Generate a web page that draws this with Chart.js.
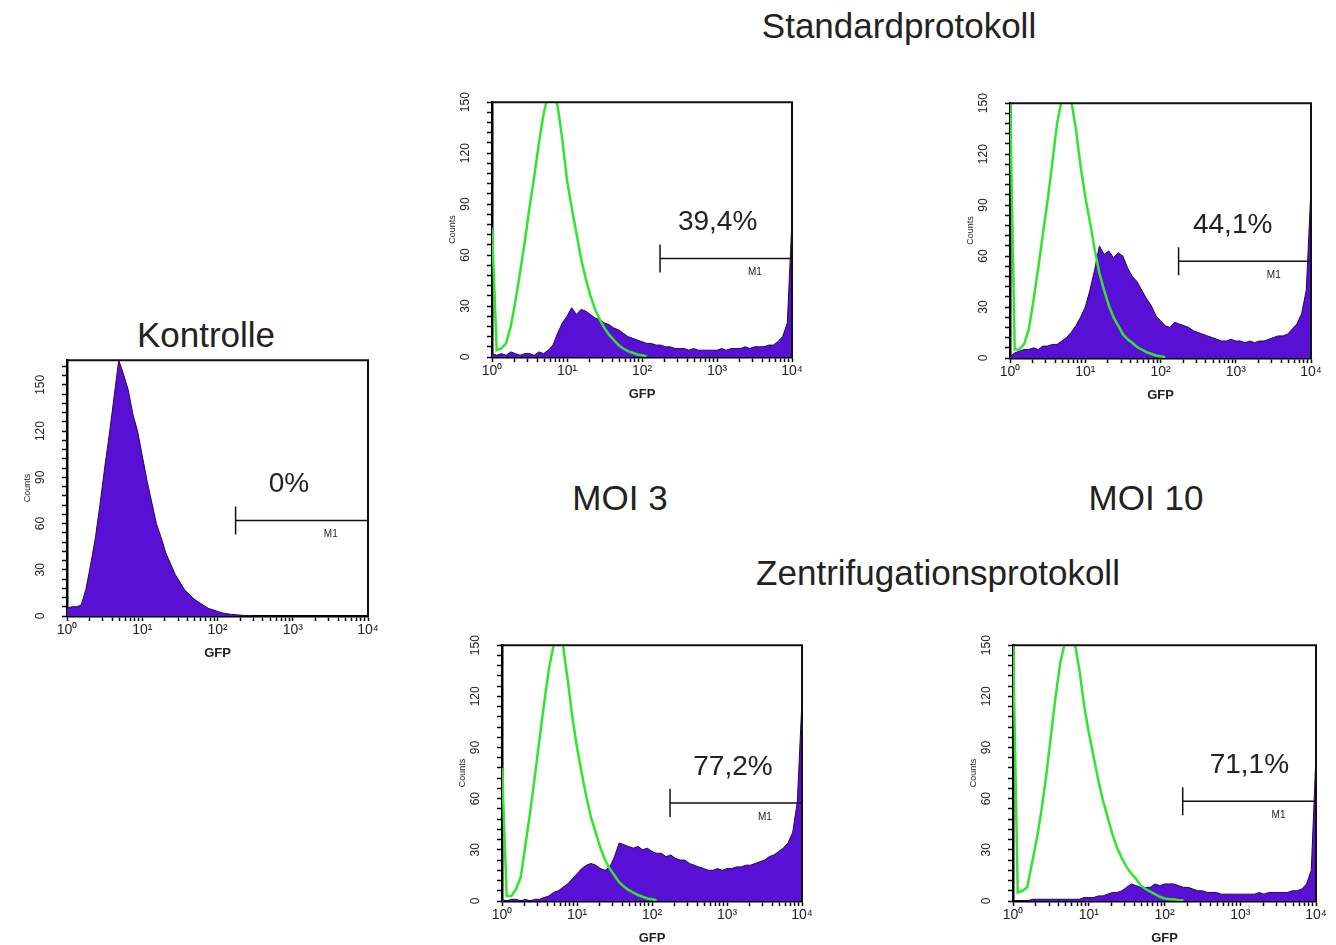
<!DOCTYPE html>
<html>
<head>
<meta charset="utf-8">
<script src="https://cdn.jsdelivr.net/npm/chart.js@4.4.1/dist/chart.umd.min.js"></script>
<style>
  body { margin: 0; background: #fff; width: 1336px; height: 945px; position: relative; overflow: hidden;
         font-family: "Liberation Sans", Arial, sans-serif; }
  .title { position: absolute; font-size: 35px; line-height: 1; color: #222; white-space: nowrap; transform: translateX(-50%); }
  canvas { position: absolute; }
</style>
</head>
<body>
<div class="title" style="left:899px;top:8px">Standardprotokoll</div>
<div class="title" style="left:206px;top:317px">Kontrolle</div>
<div class="title" style="left:620px;top:480px">MOI 3</div>
<div class="title" style="left:1146px;top:480px">MOI 10</div>
<div class="title" style="left:938px;top:555px">Zentrifugationsprotokoll</div>

<script>
// histogram channels: 16 bins per decade, from 10^0 to 10^4
const BINS_PER_DECADE = 16;

// Kontrolle (untransduced cells)
const kontrollePurple = [5, 6, 6, 7, 17, 33, 50, 72, 96, 118, 142, 166, 157, 147, 131, 120,
  104, 88, 74, 60, 51, 41, 34, 27, 22, 17, 14, 11, 9, 7, 5, 4, 3, 2, 1.5, 1, 0.8, 0.5, 0.3, 0.2, 0];

// Standardprotokoll, MOI 3
const std3Purple = [2, 1, 2, 1, 3, 2, 1, 2, 2, 1, 3, 2, 4, 7, 14, 20, 24, 29, 25, 28,
  27, 25, 23, 22, 20, 19, 17, 16, 14, 12, 11, 10, 9, 8, 8, 7, 7, 6, 6, 5,
  5, 5, 4, 5, 4, 4, 4, 4, 4, 5, 4, 5, 5, 5, 6, 5, 6, 6, 6, 7, 7, 9, 12, 20, 81];
const std3Green = [76, 4, 5, 8, 18, 33, 50, 68, 88, 106, 126, 143, 155, 156, 148, 128,
  104, 88, 73, 58, 46, 36, 28, 22, 17, 13, 10, 7, 5, 3.5, 2.5, 1.5, 1, 0.5];

// Standardprotokoll, MOI 10
const std10Purple = [1, 3, 4, 5, 5, 6, 5, 7, 7, 8, 8, 10, 12, 15, 19, 24, 30, 40, 52, 66,
  61, 63, 59, 62, 60, 53, 48, 45, 40, 35, 31, 25, 22, 19, 18, 21, 20, 19, 18, 16,
  15, 14, 13, 12, 11, 10, 10, 11, 10, 10, 9, 10, 9, 10, 10, 11, 12, 13, 13, 14, 17, 20, 26, 40, 100];
const std10Green = [155, 5, 5, 8, 17, 34, 53, 73, 93, 115, 138, 152, 158, 152, 135, 113,
  95, 80, 64, 50, 40, 31, 24, 19, 14, 11, 9, 6.5, 5, 3.5, 2.5, 1.5, 1, 0.5];

// Zentrifugationsprotokoll, MOI 3
const zen3Purple = [1, 0, 1, 1, 0, 1, 0, 1, 1, 2, 3, 5, 6, 8, 10, 13, 16, 19, 21, 22,
  21, 19, 18, 20, 26, 34, 33, 32, 31, 32, 30, 31, 29, 28, 28, 26, 27, 25, 24, 24,
  22, 21, 20, 19, 18, 18, 19, 18, 19, 19, 20, 20, 21, 21, 22, 23, 24, 26, 27, 29, 31, 34, 40, 58, 118];
const zen3Green = [78, 3, 3, 7, 14, 33, 52, 73, 95, 116, 136, 150, 156, 150, 130, 108,
  90, 75, 61, 49, 40, 31, 24, 19, 15, 11, 8.5, 6.5, 5, 3.5, 2.5, 1.5, 1, 0.5];

// Zentrifugationsprotokoll, MOI 10
const zen10Purple = [0, 0, 0, 0, 1, 1, 1, 1, 1, 1, 1, 1, 1, 1, 1, 2, 2, 2, 3, 3,
  4, 5, 5, 6, 8, 10, 9, 8, 8, 8, 10, 9, 10, 10, 10, 9, 8, 8, 7, 6,
  6, 5, 5, 5, 4, 4, 4, 4, 4, 4, 4, 4, 5, 4, 5, 5, 5, 5, 5, 6, 6, 7, 10, 18, 86];
const zen10Green = [155, 5, 6, 8, 22, 36, 53, 73, 97, 120, 140, 152, 157, 152, 136, 115,
  99, 85, 71, 59, 49, 39, 31, 25, 20, 16, 13, 9, 7, 5.5, 4, 2.5, 1.5, 1, 1, 0.5, 0.5];

// M1 gate and percentages (Kontrolle, Std MOI3, Std MOI10, Zen MOI3, Zen MOI10)
const gateStart = 174;
const gateLevels = [62, 58, 57, 57.5, 58.5];
const percentLabels = ['0%', '39,4%', '44,1%', '77,2%', '71,1%'];
const percentAt = [890, 1020, 910, 1200, 1320];
const yMaxima = [166, 150, 150, 150, 150];

// axis ticks
const yTickStep = 6;
const yLabelEvery = 30;
const xDecades = [1, 10, 100, 1000, 10000];
const xTickLabels = ['10\u2070', '10\u00b9', '10\u00b2', '10\u00b3', '10\u2074'];
const xMinorFactors = [2, 3, 4, 5, 6, 7, 8, 9];

// plot-area rectangles on the page: [left, top, right, bottom]
const panelRects = [
  [67, 357, 368, 616],
  [492, 99, 792, 357],
  [1010, 100, 1311, 358],
  [502, 642, 802, 901],
  [1013, 642, 1316, 901]
];
const purpleSeries = [kontrollePurple, std3Purple, std10Purple, zen3Purple, zen10Purple];
const greenSeries = [null, std3Green, std10Green, zen3Green, zen10Green];

const FONT = '"Liberation Sans", Arial, sans-serif';
Chart.defaults.font.family = FONT;
Chart.defaults.color = '#222';

const Y_AXIS_W = 70, X_AXIS_H = 50, PAD_TOP = 15, PAD_RIGHT = 25;

function toPoints(values) {
  return values.map((v, i) => ({ x: Math.pow(10, i / BINS_PER_DECADE), y: v }));
}

function xTicks() {
  const ticks = [];
  xDecades.forEach((d, i) => {
    ticks.push({ value: d, major: true });
    if (i < xDecades.length - 1) xMinorFactors.forEach(f => ticks.push({ value: d * f }));
  });
  return ticks;
}

function yTicks(max) {
  const ticks = [];
  for (let v = 0; v <= max; v += yTickStep) ticks.push({ value: v });
  return ticks;
}

const gatePlugin = {
  id: 'gate',
  afterDatasetsDraw(chart, args, opts) {
    const { ctx, chartArea: a, scales: { x, y } } = chart;
    ctx.save();
    ctx.strokeStyle = '#111';
    ctx.lineWidth = 2;
    ctx.beginPath();
    ctx.moveTo(a.left, a.top);
    ctx.lineTo(a.right, a.top);
    ctx.lineTo(a.right, a.bottom);
    ctx.stroke();

    const gx0 = x.getPixelForValue(opts.start);
    const gx1 = x.getPixelForValue(x.max);
    const gy = y.getPixelForValue(opts.level);
    ctx.lineWidth = 1.5;
    ctx.beginPath();
    ctx.moveTo(gx0, gy); ctx.lineTo(gx1, gy);
    ctx.moveTo(gx0, gy - 14); ctx.lineTo(gx0, gy + 14);
    ctx.stroke();

    ctx.fillStyle = '#222';
    ctx.textAlign = 'center';
    ctx.textBaseline = 'middle';
    ctx.font = '10px ' + FONT;
    ctx.fillText('M1', x.getPixelForValue(3200), gy + 14);
    ctx.font = '28px ' + FONT;
    ctx.fillText(opts.percent, x.getPixelForValue(opts.percentAt), gy - 36);
    ctx.restore();
  }
};

panelRects.forEach((r, k) => {
  const [l, t, rr, b] = r;
  const canvas = document.createElement('canvas');
  const w = (rr - l) + Y_AXIS_W + PAD_RIGHT;
  const h = (b - t) + PAD_TOP + X_AXIS_H;
  canvas.width = w; canvas.height = h;
  canvas.style.left = (l - Y_AXIS_W) + 'px';
  canvas.style.top = (t - PAD_TOP) + 'px';
  canvas.style.width = w + 'px';
  canvas.style.height = h + 'px';
  document.body.appendChild(canvas);

  const datasets = [];
  if (greenSeries[k]) {
    datasets.push({
      label: 'Kontrolle',
      data: toPoints(greenSeries[k]),
      borderColor: '#2ee62e',
      borderWidth: 2.5,
      pointRadius: 0,
      fill: false,
      tension: 0
    });
  }
  datasets.push({
    label: 'GFP',
    data: toPoints(purpleSeries[k]),
    borderColor: '#26065c',
    borderWidth: 1,
    backgroundColor: '#5810d4',
    pointRadius: 0,
    fill: 'origin',
    tension: 0
  });

  const gridOpts = { drawOnChartArea: false, drawTicks: true, tickLength: 5, tickWidth: 1.5, tickColor: '#000', color: '#000' };

  new Chart(canvas, {
    type: 'line',
    data: { datasets },
    options: {
      responsive: false,
      animation: false,
      devicePixelRatio: 1,
      layout: { padding: { top: PAD_TOP, right: PAD_RIGHT, left: 0, bottom: 0 } },
      plugins: {
        legend: { display: false },
        tooltip: { enabled: false },
        gate: {
          start: gateStart,
          level: gateLevels[k],
          percent: percentLabels[k],
          percentAt: percentAt[k]
        }
      },
      scales: {
        x: {
          type: 'logarithmic',
          min: 1,
          max: 10000,
          afterFit(s) { s.height = X_AXIS_H; },
          afterBuildTicks(s) { s.ticks = xTicks(); },
          border: { display: true, color: '#000', width: 2.5 },
          grid: gridOpts,
          ticks: {
            autoSkip: false, maxRotation: 0, minRotation: 0, padding: 1,
            font: { size: 14 },
            callback(v) {
              const i = xDecades.indexOf(v);
              return i >= 0 ? xTickLabels[i] : '';
            }
          },
          title: { display: true, text: 'GFP', font: { size: 13, weight: 'bold' }, padding: { top: 0, bottom: 5 } }
        },
        y: {
          type: 'linear',
          min: 0,
          max: yMaxima[k],
          afterFit(s) { s.width = Y_AXIS_W; },
          afterBuildTicks(s) { s.ticks = yTicks(yMaxima[k]); },
          border: { display: true, color: '#000', width: 2.5 },
          grid: gridOpts,
          ticks: {
            autoSkip: false, minRotation: 90, maxRotation: 90,
            crossAlign: 'center', padding: 11,
            font: { size: 12 },
            callback(v) { return v % yLabelEvery === 0 ? String(v) : ''; }
          },
          title: { display: true, text: 'Counts', font: { size: 9 }, padding: { top: 25, bottom: 0 } }
        }
      }
    },
    plugins: [gatePlugin]
  });
});
</script>
</body>
</html>
